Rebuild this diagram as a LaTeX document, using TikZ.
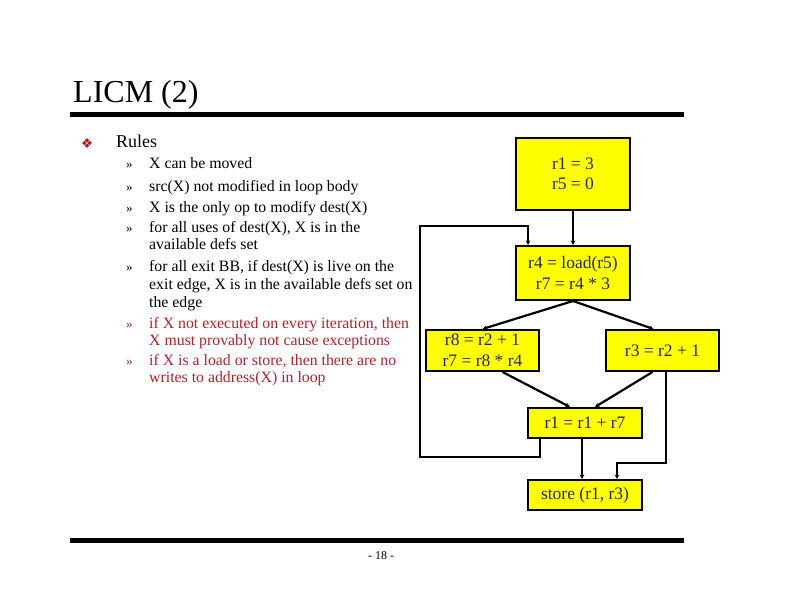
\documentclass[tikz,border=0pt]{standalone}
\usepackage{fontspec}
\setmainfont{Liberation Serif}
\usetikzlibrary{arrows.meta,calc}
\definecolor{rulered}{RGB}{176,32,40}
\definecolor{boxtext}{RGB}{40,40,95}
\definecolor{boxfill}{RGB}{255,255,0}
\tikzset{
  cfgbox/.style={draw=black,line width=2pt,fill=boxfill,text=boxtext,align=center,
    inner sep=0pt,font=\fontsize{17.5}{20.5}\selectfont},
  edge/.style={line width=2.2pt,-{Stealth[length=4.5pt,width=4.5pt]}},
  itemtxt/.style={anchor=base west,inner sep=0pt,font=\fontsize{15.8}{17}\selectfont},
  chevron/.style={anchor=base west,inner sep=0pt,font=\fontsize{13}{14}\selectfont},
  hrule/.style={line width=5pt}
}
\begin{document}
\begin{tikzpicture}[x=1pt,y=-1pt]
\useasboundingbox (0,0) rectangle (792,612);
% title and rules
\node[anchor=base west,inner sep=0pt,font=\fontsize{32}{36}\selectfont] (title) at (73,103) {LICM (2)};
\coordinate (tr1) at (70,114.5);
\coordinate (tr2) at (684,114.5);
\draw[hrule] (tr1) -- (tr2);
\coordinate (br1) at (70,540.5);
\coordinate (br2) at (684,540.5);
\draw[hrule] (br1) -- (br2);
\node[inner sep=0pt,font=\fontsize{12}{14}\selectfont] (page) at (381,556) {- 18 -};
% bullet
\foreach \dx/\dy in {-2.6/0,2.6/0,0/-2.6,0/2.6}{
  \fill[rulered] (87+\dx,143+\dy) +(-2.2,0) -- +(0,-2.2) -- +(2.2,0) -- +(0,2.2) -- cycle;
}
\node[anchor=base west,inner sep=0pt,font=\fontsize{18}{20}\selectfont] (rules) at (116,148) {Rules};
% items
\foreach \y in {169,192,213,233,272}{\node[chevron] (m\y) at (126,\y) {»};}
\foreach \y in {328,365}{\node[chevron,text=rulered] (m\y) at (126,\y) {»};}
\node[itemtxt] (i1) at (149,169) {X can be moved};
\node[itemtxt] (i2) at (149,192) {src(X) not modified in loop body};
\node[itemtxt] (i3) at (149,213) {X is the only op to modify dest(X)};
\node[itemtxt] (i4) at (149,233) {for all uses of dest(X), X is in the};
\node[itemtxt] (i4b) at (149,250) {available defs set};
\node[itemtxt] (i5) at (149,272) {for all exit BB, if dest(X) is live on the};
\node[itemtxt] (i5b) at (149,289) {exit edge, X is in the available defs set on};
\node[itemtxt] (i5c) at (149,307) {the edge};
\node[itemtxt,text=rulered] (i6) at (149,328) {if X not executed on every iteration, then};
\node[itemtxt,text=rulered] (i6b) at (149,345) {X must provably not cause exceptions};
\node[itemtxt,text=rulered] (i7) at (149,365) {if X is a load or store, then there are no};
\node[itemtxt,text=rulered] (i7b) at (149,382) {writes to address(X) in loop};
% boxes
\node[cfgbox,minimum width=114pt,minimum height=72pt] (b1) at (573,174) {r1 = 3\\r5 = 0};
\node[cfgbox,minimum width=114pt,minimum height=54pt] (b2) at (573,273) {r4 = load(r5)\\r7 = r4 * 3};
\node[cfgbox,minimum width=113pt,minimum height=41pt] (b3) at (482.5,350.5) {r8 = r2 + 1\\r7 = r8 * r4};
\node[cfgbox,minimum width=113pt,minimum height=41pt] (b4) at (662.5,350.5) {r3 = r2 + 1};
\node[cfgbox,minimum width=114pt,minimum height=30pt] (b5) at (585,423) {r1 = r1 + r7};
\node[cfgbox,minimum width=114pt,minimum height=30pt] (b6) at (585,495) {store (r1, r3)};
% edges
\draw[edge] (b1.south) -- (b2.north);
\draw[edge] (b2.south) -- (b3.north);
\draw[edge] (b2.south) -- ([xshift=-9pt]b4.north);
\draw[edge] ([xshift=20pt]b3.south) -- ([xshift=-15pt]b5.north);
\draw[edge] ([xshift=-10pt]b4.south) -- ([xshift=10pt]b5.north);
\draw[edge] ([xshift=-3pt]b5.south) -- ([xshift=-3pt]b6.north);
\draw[edge] ([xshift=3.5pt]b4.south) -- ++(0,91) -| ([xshift=32pt]b6.north);
\draw[edge] ([xshift=-45pt]b5.south) -- ++(0,18) -- ++(-120,0) |- ($(b2.north)+(-45,-19)$) -- ([xshift=-45pt]b2.north);
\end{tikzpicture}
\end{document}
